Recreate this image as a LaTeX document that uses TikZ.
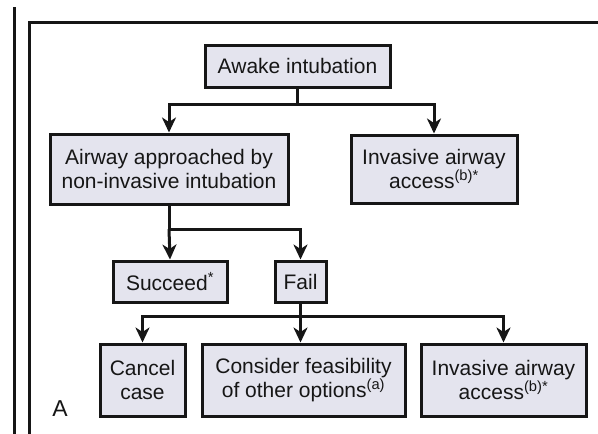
\documentclass[tikz,border=0pt]{standalone}
\usepackage{fontspec}
\setmainfont{Liberation Sans}
\usetikzlibrary{arrows.meta}
\definecolor{boxfill}{RGB}{228,228,238}
\definecolor{ink}{RGB}{22,22,22}
\tikzset{
  box/.style={draw=ink, line width=3pt, fill=boxfill, text=ink, inner sep=0pt,
    align=center, font=\fontsize{21}{23.5}\selectfont},
  conn/.style={draw=ink, line width=3pt},
  arr/.style={conn, -{Stealth[length=15pt,width=14pt,inset=4.5pt]}},
}
\begin{document}
\begin{tikzpicture}[x=1pt,y=-1pt]
\useasboundingbox (0,0) rectangle (598,434);
\fill[white] (0,0) rectangle (598,434);
% frame
\draw[ink, line width=3.8pt] (14.5,7) -- (14.5,434);
\draw[ink, line width=3pt] (29,434) -- (29,22) -- (598,22);
% nodes
\node[box, minimum width=185pt, minimum height=42pt] (awake) at (297.5,66) {Awake intubation};
\node[box, minimum width=238pt, minimum height=70pt] (airway) at (169,169) {Airway approached by\\non-invasive intubation};
\node[box, minimum width=166pt, minimum height=68pt] (inv1) at (434,169) {Invasive airway\\access\textsuperscript{(b)*}};
\node[box, minimum width=114pt, minimum height=41pt] (succ) at (170,281.5) {Succeed\textsuperscript{*}};
\node[box, minimum width=51pt, minimum height=41pt] (fail) at (300.5,281.5) {Fail};
\node[box, minimum width=85pt, minimum height=72pt] (cancel) at (142.5,380) {Cancel\\case};
\node[box, minimum width=203pt, minimum height=72pt] (consider) at (303.5,380) {Consider feasibility\\of other options\textsuperscript{(a)}};
\node[box, minimum width=165pt, minimum height=72pt] (inv2) at (503.5,380) {Invasive airway\\access\textsuperscript{(b)*}};
\node[text=ink, font=\fontsize{23}{25}\selectfont] (lab) at (60,409) {A};
% junction levels
\coordinate (y1) at (0,104);
\coordinate (y2) at (0,229);
\coordinate (y3) at (0,316);
\coordinate (j1) at (awake.south |- y1);
\coordinate (j2) at (airway.south |- y2);
\coordinate (j3) at (fail.south |- y3);
% connectors
\draw[conn] (awake.south) -- (j1);
\draw[arr] (j1) -| (airway.north);
\draw[arr] (j1) -| (inv1.north);
\draw[conn] (airway.south) -- (j2);
\draw[arr] (j2) -- (succ.north);
\draw[arr] (j2) -| (fail.north);
\draw[conn] (fail.south) -- (j3);
\draw[arr] (j3) -| (cancel.north);
\draw[arr] (j3) -- (j3 |- consider.north);
\draw[arr] (j3) -| (inv2.north);
\end{tikzpicture}
\end{document}
